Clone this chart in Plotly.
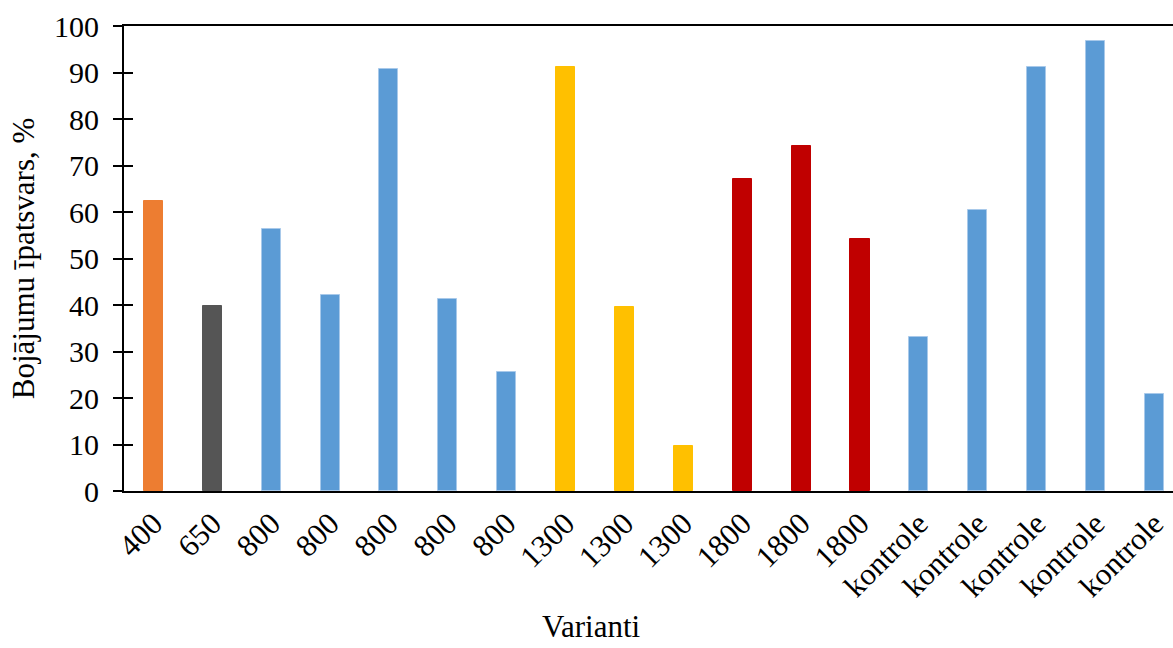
import plotly.graph_objects as go

# Variants (x labels) and share of damage, %
variants = ["400", "650", "800", "800", "800", "800", "800",
            "1300", "1300", "1300", "1800", "1800", "1800",
            "kontrole", "kontrole", "kontrole", "kontrole", "kontrole"]
damage_pct = [62.3, 39.7, 56.3, 42.2, 90.7, 41.2, 25.5,
              91.1, 39.5, 9.7, 67.2, 74.3, 54.1,
              33.1, 60.4, 91.2, 96.8, 20.8]

y_ticks = [0, 10, 20, 30, 40, 50, 60, 70, 80, 90, 100]

# colour per variant group
group_colors = {
    "400": "#ED7D31",
    "650": "#555555",
    "800": "#5B9BD5",
    "1300": "#FFC000",
    "1800": "#C00000",
    "kontrole": "#5B9BD5",
}
edge_colors = {
    "400": "#ED7D31",
    "650": "#555555",
    "800": "#A8C9EA",
    "1300": "#FFC000",
    "1800": "#C00000",
    "kontrole": "#A8C9EA",
}

x_pos = list(range(len(variants)))
fill = [group_colors[v] for v in variants]
edge = [edge_colors[v] for v in variants]

FONT = "Liberation Serif"
W, H = 1173, 648
L, R, T, B = 124, 0, 26, 157

fig = go.Figure()
fig.add_trace(go.Bar(
    x=x_pos, y=damage_pct, width=0.323,
    marker=dict(color=fill, line=dict(color=edge, width=1)),
    showlegend=False, hoverinfo="x+y",
))

fig.update_layout(
    width=W, height=H,
    margin=dict(l=L, r=R, t=T, b=B, pad=0),
    paper_bgcolor="white", plot_bgcolor="white",
    font=dict(family=FONT, color="black", size=29),
    xaxis=dict(
        range=[-0.5, 17.316],
        tickmode="array", tickvals=x_pos, ticktext=variants,
        tickangle=-45, ticks="", showgrid=False, zeroline=False,
        showline=True, linecolor="black", linewidth=2, mirror=True,
        tickfont=dict(size=31, family=FONT, color="black"),
    ),
    yaxis=dict(
        range=[0, 100], tickmode="array", tickvals=y_ticks,
        ticks="outside", ticklen=9, tickwidth=2, tickcolor="black",
        showgrid=False, zeroline=False,
        showline=True, linecolor="black", linewidth=2,
        tickfont=dict(size=30, family=FONT, color="black"),
        ticklabelstandoff=8,
        title=dict(text="Bojājumu īpatsvars, %",
                   font=dict(size=31, family=FONT, color="black"),
                   standoff=10),
    ),
    # inside half of the crossing tick marks
    yaxis2=dict(
        range=[0, 100], tickmode="array", tickvals=y_ticks,
        ticks="inside", ticklen=9, tickwidth=2, tickcolor="black",
        showticklabels=False, showgrid=False, zeroline=False,
        showline=False, overlaying="y", side="left",
    ),
    bargap=0,
)

# invisible trace to carry the second y axis
fig.add_trace(go.Scatter(x=[0], y=[0], yaxis="y2", mode="markers",
                         marker=dict(opacity=0), showlegend=False, hoverinfo="skip"))

fig.add_annotation(
    text="Varianti", xref="paper", yref="paper",
    x=(591 - L) / (W - L - R), y=-(646 - (H - B)) / (H - T - B),
    xanchor="center", yanchor="bottom", showarrow=False,
    font=dict(size=31, family=FONT, color="black"),
)

fig.write_html("out.html")
